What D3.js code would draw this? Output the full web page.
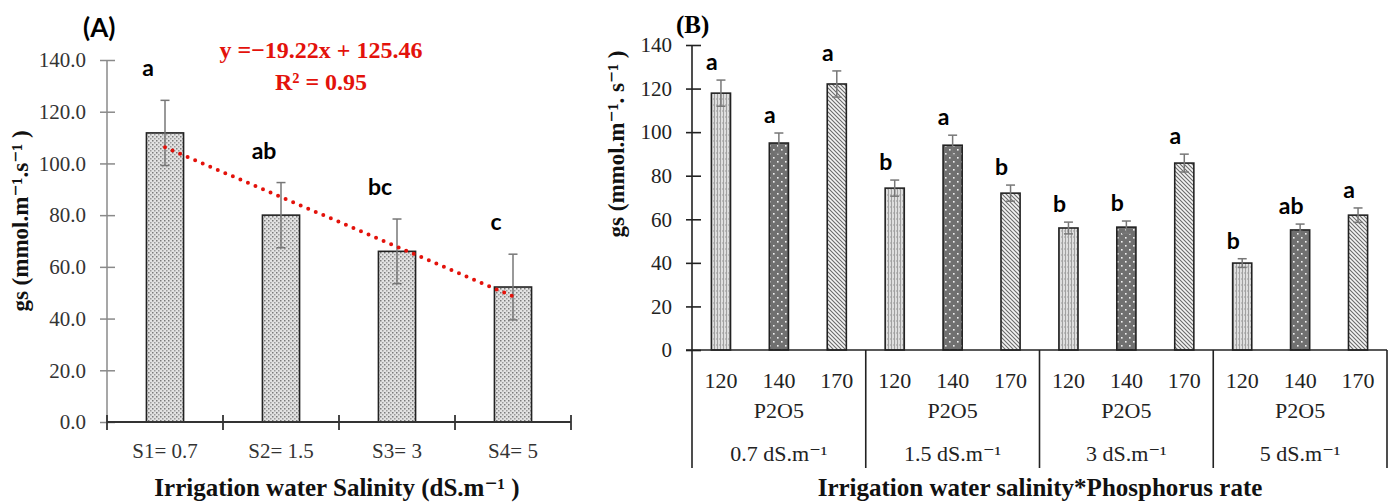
<!DOCTYPE html>
<html>
<head>
<meta charset="utf-8">
<script src="https://cdn.jsdelivr.net/npm/d3@7"></script>
<style>
  html, body { margin: 0; padding: 0; background: #fff; }
  svg { display: block; }
</style>
</head>
<body>
<svg id="chart" width="1394" height="504"></svg>
<script>
// ---------- Panel A data ----------
const salinityCats = ["S1= 0.7", "S2= 1.5", "S3= 3", "S4= 5"];
const gsA = [111.8, 80.0, 66.0, 52.2];
const gsAErr = [12.6, 12.6, 12.5, 12.7];
const lettersA = ["a", "ab", "bc", "c"];
const ticksA = [0, 20, 40, 60, 80, 100, 120, 140];
const trendSlope = -19.22;
const trendIntercept = 125.46;

// ---------- Panel B data ----------
const salinityGroups = ["0.7 dS.m\u207B\u00B9", "1.5 dS.m\u207B\u00B9", "3 dS.m\u207B\u00B9", "5 dS.m\u207B\u00B9"];
const phosphorusRates = ["120", "140", "170"];
const gs120 = [117.9, 74.3, 56.0, 39.9];
const gs140 = [95.0, 94.0, 56.4, 55.1];
const gs170 = [122.1, 72.0, 85.8, 61.9];
const err120 = [6.0, 3.7, 2.7, 2.0];
const err140 = [4.6, 4.6, 2.8, 2.7];
const err170 = [6.0, 3.7, 4.1, 3.3];
const letters120 = ["a", "b", "b", "b"];
const letters140 = ["a", "a", "b", "ab"];
const letters170 = ["a", "b", "a", "a"];
const ticksB = [0, 20, 40, 60, 80, 100, 120, 140];

const svg = d3.select("#chart");
const serif = "'Liberation Serif', 'DejaVu Serif', serif";
const sansBold = "Lato, 'Open Sans', sans-serif";

// ---------- patterns ----------
const defs = svg.append("defs");
const pA = defs.append("pattern").attr("id", "patA").attr("patternUnits", "userSpaceOnUse")
  .attr("width", 4).attr("height", 4);
pA.append("rect").attr("width", 4).attr("height", 4).attr("fill", "#e2e2e2");
pA.append("rect").attr("x", 0).attr("y", 0).attr("width", 1.5).attr("height", 1.5).attr("fill", "#7a7a7a");
pA.append("rect").attr("x", 2).attr("y", 2).attr("width", 1.5).attr("height", 1.5).attr("fill", "#9a9a9a");
const p1 = defs.append("pattern").attr("id", "pat120").attr("patternUnits", "userSpaceOnUse")
  .attr("width", 3).attr("height", 6);
p1.append("rect").attr("width", 3).attr("height", 6).attr("fill", "#dedede");
p1.append("rect").attr("x", 0).attr("width", 1).attr("height", 6).attr("fill", "#a0a0a0");
p1.append("rect").attr("x", 2).attr("y", 2).attr("width", 1).attr("height", 2).attr("fill", "#bcbcbc");
const p2 = defs.append("pattern").attr("id", "pat140").attr("patternUnits", "userSpaceOnUse")
  .attr("width", 8).attr("height", 8);
p2.append("rect").attr("width", 8).attr("height", 8).attr("fill", "#707070");
p2.append("rect").attr("x", 1).attr("y", 1).attr("width", 1.6).attr("height", 1.6).attr("fill", "#f2f2f2");
p2.append("rect").attr("x", 5).attr("y", 5).attr("width", 1.6).attr("height", 1.6).attr("fill", "#f2f2f2");
const p3 = defs.append("pattern").attr("id", "pat170").attr("patternUnits", "userSpaceOnUse")
  .attr("width", 4).attr("height", 4);
p3.append("rect").attr("width", 4).attr("height", 4).attr("fill", "#f4f4f4");
p3.append("path").attr("d", "M-1,-1 L5,5 M-1,3 L1,5 M3,-1 L5,1").attr("stroke", "#6a6a6a").attr("stroke-width", 1.1);

// =============== PANEL A ===============
const yA = d3.scaleLinear().domain([0, 140]).range([422, 60]);
const xA = d3.scaleBand().domain(salinityCats).range([107, 571]).paddingInner(0.68).paddingOuter(0.34);
const stepA = xA.step();
const A = svg.append("g");

const yAxisA = A.append("g").attr("transform", "translate(107,0)")
  .call(d3.axisLeft(yA).tickValues(ticksA).tickFormat(d3.format(".1f")).tickSize(7).tickPadding(14));
yAxisA.attr("font-family", null).attr("font-size", null);
yAxisA.select(".domain").attr("stroke", "#8a8a8a").attr("stroke-width", 1.5)
  .attr("d", `M0,${yA(0)}V${yA(140)}`);
yAxisA.selectAll(".tick line").attr("stroke", "#8a8a8a").attr("stroke-width", 1.5).attr("x1", 8);
yAxisA.selectAll(".tick text").style("font-family", serif).style("font-size", "21px").attr("fill", "#333");

const dataA = salinityCats.map((c, i) => ({ c, v: gsA[i], e: gsAErr[i], l: lettersA[i] }));
A.selectAll("rect.barA").data(dataA).join("rect").attr("class", "barA")
  .attr("x", d => xA(d.c)).attr("width", xA.bandwidth())
  .attr("y", d => yA(d.v)).attr("height", d => yA(0) - yA(d.v))
  .attr("fill", "url(#patA)").attr("stroke", "#222").attr("stroke-width", 1.6);

const errA = A.selectAll("g.errA").data(dataA).join("g").attr("class", "errA")
  .attr("stroke", "#777").attr("stroke-width", 1.5);
errA.append("line").attr("x1", d => xA(d.c) + xA.bandwidth() / 2).attr("x2", d => xA(d.c) + xA.bandwidth() / 2)
  .attr("y1", d => yA(d.v + d.e)).attr("y2", d => yA(d.v - d.e));
errA.append("line").attr("x1", d => xA(d.c) + xA.bandwidth() / 2 - 4.5).attr("x2", d => xA(d.c) + xA.bandwidth() / 2 + 4.5)
  .attr("y1", d => yA(d.v + d.e)).attr("y2", d => yA(d.v + d.e));
errA.append("line").attr("x1", d => xA(d.c) + xA.bandwidth() / 2 - 4.5).attr("x2", d => xA(d.c) + xA.bandwidth() / 2 + 4.5)
  .attr("y1", d => yA(d.v - d.e)).attr("y2", d => yA(d.v - d.e));

const xAxisA = A.append("g").attr("transform", `translate(0,${yA(0)})`);
xAxisA.append("line").attr("x1", 107).attr("x2", 571).attr("stroke", "#333").attr("stroke-width", 1.8);
const boundsA = d3.range(salinityCats.length + 1).map(i => 107 + i * stepA);
xAxisA.selectAll("line.tk").data(boundsA).join("line").attr("class", "tk")
  .attr("x1", d => d).attr("x2", d => d).attr("y1", -7).attr("y2", 8).attr("stroke", "#333").attr("stroke-width", 1.8);
xAxisA.selectAll("text").data(salinityCats).join("text")
  .attr("x", d => xA(d) + xA.bandwidth() / 2).attr("y", 36).attr("text-anchor", "middle")
  .style("font-family", serif).style("font-size", "21px").attr("fill", "#333").text(d => d);

const trendPts = [1, 4].map(k => [xA(salinityCats[k - 1]) + xA.bandwidth() / 2, yA(trendSlope * k + trendIntercept)]);
A.append("path").attr("d", d3.line()(trendPts)).attr("fill", "none").attr("stroke", "#e3120b")
  .attr("stroke-width", 4).attr("stroke-linecap", "round").attr("stroke-dasharray", "0 8.2");

A.selectAll("text.letA").data(dataA).join("text").attr("class", "letA")
  .attr("x", d => xA(d.c) + xA.bandwidth() / 2 - 17)
  .attr("y", d => yA(d.v + d.e) - 24)
  .attr("text-anchor", "middle").style("font-family", sansBold).attr("font-weight", "bold")
  .style("font-size", "23px").attr("fill", "#000").text(d => d.l);

A.append("text").attr("x", 321).attr("y", 58).attr("text-anchor", "middle")
  .style("font-family", serif).attr("font-weight", "bold").style("font-size", "24px").attr("fill", "#e3120b")
  .text(`y =\u2212${Math.abs(trendSlope).toFixed(2)}x + ${trendIntercept.toFixed(2)}`);
A.append("text").attr("x", 321).attr("y", 90).attr("text-anchor", "middle")
  .style("font-family", serif).attr("font-weight", "bold").style("font-size", "24px").attr("fill", "#e3120b")
  .text("R\u00B2 = 0.95");

A.append("text").attr("x", 83).attr("y", 37).style("font-family", sansBold).attr("font-weight", "bold")
  .style("font-size", "26px").attr("fill", "#000").text("(A)");

A.append("text").attr("transform", "translate(28,221) rotate(-90)").attr("text-anchor", "middle")
  .style("font-family", serif).attr("font-weight", "bold").style("font-size", "23px").attr("fill", "#111")
  .text("gs (mmol.m\u207B\u00B9.s\u207B\u00B9 )");
A.append("text").attr("x", 337).attr("y", 496).attr("text-anchor", "middle")
  .style("font-family", serif).attr("font-weight", "bold").style("font-size", "25px").attr("fill", "#111")
  .text("Irrigation water Salinity (dS.m\u207B\u00B9 )");

// =============== PANEL B ===============
const yB = d3.scaleLinear().domain([0, 140]).range([350, 45]);
const xG = d3.scaleBand().domain(salinityGroups).range([692, 1387]).padding(0);
const xR = d3.scaleBand().domain(phosphorusRates).range([0, xG.bandwidth()]).paddingInner(0.67).paddingOuter(0.335);
const B = svg.append("g");

const yAxisB = B.append("g").attr("transform", "translate(692,0)")
  .call(d3.axisLeft(yB).tickValues(ticksB).tickFormat(d3.format("d")).tickSize(6).tickPadding(14));
yAxisB.attr("font-family", null).attr("font-size", null);
yAxisB.select(".domain").attr("stroke", "#222").attr("stroke-width", 1.6)
  .attr("d", `M0,${yB(140)}V468`);
yAxisB.selectAll(".tick line").attr("stroke", "#222").attr("stroke-width", 1.6).attr("x1", 9);
yAxisB.selectAll(".tick text").style("font-family", serif).style("font-size", "21px").attr("fill", "#222");

const seriesB = [
  { r: "120", vals: gs120, errs: err120, lets: letters120, pat: "url(#pat120)" },
  { r: "140", vals: gs140, errs: err140, lets: letters140, pat: "url(#pat140)" },
  { r: "170", vals: gs170, errs: err170, lets: letters170, pat: "url(#pat170)" }
];
const dataB = [];
salinityGroups.forEach((g, gi) => seriesB.forEach(s => dataB.push({
  g, r: s.r, v: s.vals[gi], e: s.errs[gi], l: s.lets[gi], pat: s.pat
})));
const cxB = d => xG(d.g) + xR(d.r) + xR.bandwidth() / 2;

B.selectAll("rect.barB").data(dataB).join("rect").attr("class", "barB")
  .attr("x", d => xG(d.g) + xR(d.r)).attr("width", xR.bandwidth())
  .attr("y", d => yB(d.v)).attr("height", d => yB(0) - yB(d.v))
  .attr("fill", d => d.pat).attr("stroke", "#222").attr("stroke-width", 1.6);

const errB = B.selectAll("g.errB").data(dataB).join("g").attr("class", "errB")
  .attr("stroke", "#777").attr("stroke-width", 1.5);
errB.append("line").attr("x1", cxB).attr("x2", cxB).attr("y1", d => yB(d.v + d.e)).attr("y2", d => yB(d.v - d.e));
errB.append("line").attr("x1", d => cxB(d) - 4.5).attr("x2", d => cxB(d) + 4.5)
  .attr("y1", d => yB(d.v + d.e)).attr("y2", d => yB(d.v + d.e));
errB.append("line").attr("x1", d => cxB(d) - 4.5).attr("x2", d => cxB(d) + 4.5)
  .attr("y1", d => yB(d.v - d.e)).attr("y2", d => yB(d.v - d.e));

B.selectAll("text.letB").data(dataB).join("text").attr("class", "letB")
  .attr("x", d => cxB(d) - 9).attr("y", d => yB(d.v + d.e) - 10)
  .attr("text-anchor", "middle").style("font-family", sansBold).attr("font-weight", "bold")
  .style("font-size", "23px").attr("fill", "#000").text(d => d.l);

const xAxisB = B.append("g");
xAxisB.append("line").attr("x1", 686).attr("x2", 1387).attr("y1", yB(0)).attr("y2", yB(0))
  .attr("stroke", "#222").attr("stroke-width", 1.6);
const boundsB = d3.range(salinityGroups.length + 1).map(i => 692 + i * xG.step());
xAxisB.selectAll("line.sep").data(boundsB.slice(1)).join("line").attr("class", "sep")
  .attr("x1", d => d).attr("x2", d => d).attr("y1", yB(0)).attr("y2", 468)
  .attr("stroke", "#222").attr("stroke-width", 1.6);
const rateLabels = [];
salinityGroups.forEach(g => phosphorusRates.forEach(r => rateLabels.push({ g, r })));
xAxisB.selectAll("text.rate").data(rateLabels).join("text").attr("class", "rate")
  .attr("x", d => xG(d.g) + xR(d.r) + xR.bandwidth() / 2).attr("y", 388).attr("text-anchor", "middle")
  .style("font-family", serif).style("font-size", "22px").attr("fill", "#222").text(d => d.r);
xAxisB.selectAll("text.p2o5").data(salinityGroups).join("text").attr("class", "p2o5")
  .attr("x", d => xG(d) + xG.bandwidth() / 2).attr("y", 418).attr("text-anchor", "middle")
  .style("font-family", serif).style("font-size", "22px").attr("fill", "#222").text("P2O5");
xAxisB.selectAll("text.grp").data(salinityGroups).join("text").attr("class", "grp")
  .attr("x", d => xG(d) + xG.bandwidth() / 2).attr("y", 461).attr("text-anchor", "middle")
  .style("font-family", serif).style("font-size", "22px").attr("fill", "#222").text(d => d);

B.append("text").attr("x", 676).attr("y", 33).style("font-family", serif).attr("font-weight", "bold")
  .style("font-size", "25px").attr("fill", "#000").text("(B)");
B.append("text").attr("transform", "translate(624,144) rotate(-90)").attr("text-anchor", "middle")
  .style("font-family", serif).attr("font-weight", "bold").style("font-size", "23px").attr("fill", "#111")
  .text("gs (mmol.m\u207B\u00B9. s\u207B\u00B9 )");
B.append("text").attr("x", 1040).attr("y", 496).attr("text-anchor", "middle")
  .style("font-family", serif).attr("font-weight", "bold").style("font-size", "25px").attr("fill", "#111")
  .text("Irrigation water salinity*Phosphorus rate");
</script>
</body>
</html>
